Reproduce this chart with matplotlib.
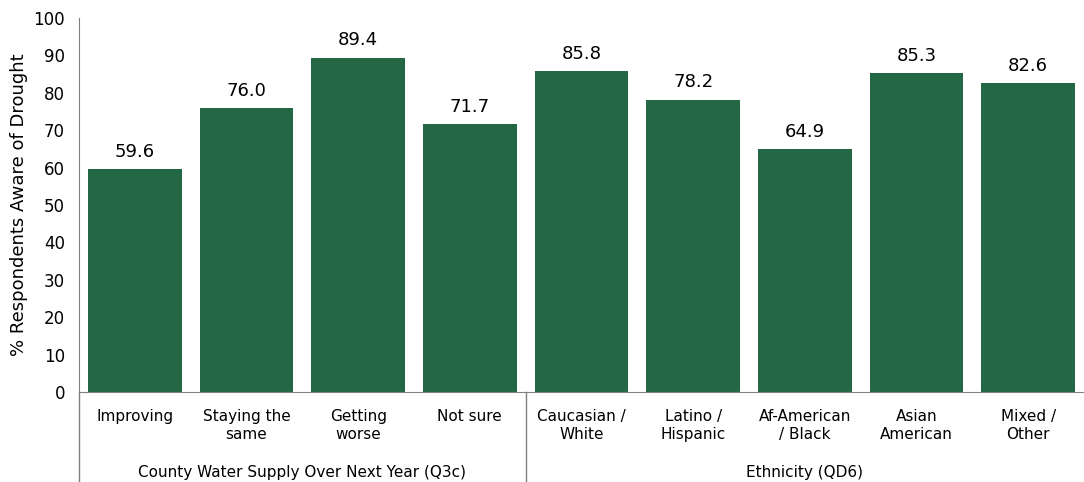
import matplotlib.pyplot as plt

categories = ["Improving", "Staying the\nsame", "Getting\nworse", "Not sure",
              "Caucasian /\nWhite", "Latino /\nHispanic", "Af-American\n/ Black",
              "Asian\nAmerican", "Mixed /\nOther"]
values = [59.6, 76.0, 89.4, 71.7, 85.8, 78.2, 64.9, 85.3, 82.6]
groups = ["County Water Supply Over Next Year (Q3c)", "Ethnicity (QD6)"]
group_sizes = [4, 5]
yticks = list(range(0, 101, 10))

bar_color = "#236745"

fig = plt.figure(figsize=(10.84, 4.82), dpi=100)
ax = fig.add_axes([79 / 1084, 1 - 392 / 482, 1 - 79 / 1084, 374 / 482])

x = list(range(len(categories)))
ax.bar(x, values, width=0.84, color=bar_color)
for xi, v in zip(x, values):
    ax.text(xi, v + 2.2, f"{v:.1f}", ha="center", va="bottom", fontsize=13)

ax.set_xlim(-0.5, len(categories) - 0.5)
ax.set_ylim(0, 100)
ax.set_yticks(yticks)
ax.tick_params(axis="y", length=0, labelsize=12, pad=10)
ax.set_xticks(x)
ax.set_xticklabels(categories, fontsize=11, linespacing=1.3)
ax.tick_params(axis="x", length=0, pad=12)
ax.set_ylabel("% Respondents Aware of Drought", fontsize=13, labelpad=4)

for s in ["top", "right"]:
    ax.spines[s].set_visible(False)
for s in ["left", "bottom"]:
    ax.spines[s].set_color("#808080")

# group separators and labels below the axis
ext = -90 / 374
ax.plot([-0.5, -0.5], [0, ext], transform=ax.get_xaxis_transform(),
        color="#808080", lw=1, clip_on=False)
start = 0
for name, n in zip(groups, group_sizes):
    end = start + n
    ax.text((start + end - 1) / 2, -80 / 374, name, ha="center", va="center",
            fontsize=11, transform=ax.get_xaxis_transform())
    if end < len(categories):
        ax.plot([end - 0.5, end - 0.5], [0, ext], transform=ax.get_xaxis_transform(),
                color="#808080", lw=1, clip_on=False)
    start = end

fig.savefig("out.png", dpi=100)
